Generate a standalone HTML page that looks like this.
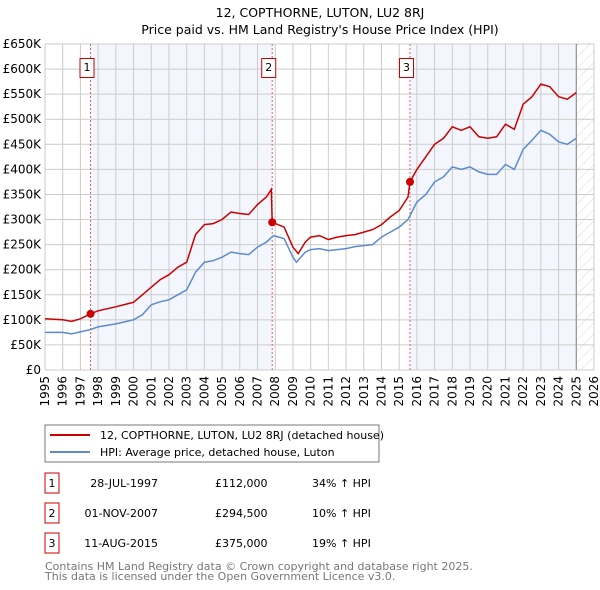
<!DOCTYPE html>
<html><head><meta charset="utf-8"><style>
body{margin:0;background:#fff;width:600px;height:590px;overflow:hidden;font-family:"Liberation Sans","DejaVu Sans",sans-serif}
svg{display:block}
text{font-family:"DejaVu Sans","Liberation Sans",sans-serif}
</style></head><body>
<svg id="c" width="600" height="590" viewBox="0 0 600 590">
<text x="320" y="17" text-anchor="middle" font-size="12.5" fill="#000">12, COPTHORNE, LUTON, LU2 8RJ</text>
<text x="320" y="34" text-anchor="middle" font-size="12.5" fill="#000">Price paid vs. HM Land Registry's House Price Index (HPI)</text>
<g id="plot"></g>
<rect x="45" y="425" width="334" height="37" fill="#fff" stroke="#777"/>
<line x1="50" y1="435" x2="90" y2="435" stroke="#cc0000" stroke-width="2"/>
<text x="100" y="439" font-size="11">12, COPTHORNE, LUTON, LU2 8RJ (detached house)</text>
<line x1="50" y1="452" x2="90" y2="452" stroke="#5b8bd0" stroke-width="2"/>
<text x="100" y="456" font-size="11">HPI: Average price, detached house, Luton</text>
<g id="tbl" font-size="11"></g>
<text x="45" y="570" font-size="11" fill="#777">Contains HM Land Registry data © Crown copyright and database right 2025.</text>
<text x="45" y="580" font-size="11" fill="#777">This data is licensed under the Open Government Licence v3.0.</text>
</svg>
<script>
const hpiYears=[1995,1996,1996.5,1997,1997.5,1998,1999,2000,2000.5,2001,2001.5,2002,2002.5,2003,2003.5,2004,2004.5,2005,2005.5,2006,2006.5,2007,2007.5,2007.9,2008.5,2009,2009.2,2009.7,2010,2010.5,2011,2011.5,2012,2012.5,2013,2013.5,2014,2014.5,2015,2015.5,2016,2016.5,2017,2017.5,2018,2018.5,2019,2019.5,2020,2020.5,2021,2021.5,2022,2022.5,2023,2023.5,2024,2024.5,2025];
const hpiValues=[75,75,72,76,80,86,92,100,110,130,136,140,150,160,195,215,218,225,235,232,230,245,255,268,262,225,215,235,240,242,238,240,242,246,248,250,265,275,285,300,335,350,375,385,405,400,405,395,390,390,410,400,440,458,478,470,455,450,462];
const priceYears=[1995,1996,1996.5,1997,1997.57,1998,1999,2000,2000.5,2001,2001.5,2002,2002.5,2003,2003.5,2004,2004.5,2005,2005.5,2006,2006.5,2007,2007.5,2007.78,2007.83,2008.5,2009,2009.3,2009.7,2010,2010.5,2011,2011.5,2012,2012.5,2013,2013.5,2014,2014.5,2015,2015.5,2015.61,2016,2016.5,2017,2017.5,2018,2018.5,2019,2019.5,2020,2020.5,2021,2021.5,2022,2022.5,2023,2023.5,2024,2024.5,2025];
const priceValues=[102,100,97,102,112,118,126,135,150,165,180,190,205,215,270,290,292,300,315,312,310,330,345,360,294.5,285,245,232,255,265,268,260,265,268,270,275,280,290,305,318,345,375,400,425,450,462,485,478,485,465,462,465,490,480,530,545,570,565,545,540,553];
const saleYears=[1997.57,2007.83,2015.61];
const saleValues=[112,294.5,375];
const saleLabels=["1","2","3"];
const saleDates=["28-JUL-1997","01-NOV-2007","11-AUG-2015"];
const salePrices=["£112,000","£294,500","£375,000"];
const saleHpi=["34% ↑ HPI","10% ↑ HPI","19% ↑ HPI"];
const yTicks=[0,50,100,150,200,250,300,350,400,450,500,550,600,650];
const yTickLabels=["£0","£50K","£100K","£150K","£200K","£250K","£300K","£350K","£400K","£450K","£500K","£550K","£600K","£650K"];
const xTicks=[1995,1996,1997,1998,1999,2000,2001,2002,2003,2004,2005,2006,2007,2008,2009,2010,2011,2012,2013,2014,2015,2016,2017,2018,2019,2020,2021,2022,2023,2024,2025,2026];

const X0=45,X1=594,Y0=370,Y1=44;
const xs=y=>X0+(y-1995)/(2026-1995)*(X1-X0);
const ys=v=>Y0-v/650*(Y0-Y1);
const NS="http://www.w3.org/2000/svg";
const plot=document.getElementById('plot');
function mk(tag,attrs,parent){const e=document.createElementNS(NS,tag);for(const k in attrs)e.setAttribute(k,attrs[k]);(parent||plot).appendChild(e);return e;}

let e=mk('rect',{x:X0,y:Y1,width:X1-X0,height:Y0-Y1,fill:'#fff'});


const shades=[[saleYears[0],saleYears[1]],[saleYears[2],2025.0]];
shades.forEach((s,i)=>{const r=mk('rect',{x:xs(s[0]),y:Y1,width:xs(s[1])-xs(s[0]),height:Y0-Y1,fill:'#f3f6fd'});

});
const defs=mk('defs',{});
const pat=mk('pattern',{id:'h',width:8,height:8,patternUnits:'userSpaceOnUse',patternTransform:'rotate(45)'},defs);
mk('line',{x1:0,y1:0,x2:0,y2:8,stroke:'#d8d8d8','stroke-width':1},pat);
e=mk('rect',{x:xs(2025.0),y:Y1,width:X1-xs(2025.0),height:Y0-Y1,fill:'url(#h)'});


yTicks.forEach((v,i)=>{const l=mk('line',{x1:X0,x2:X1,y1:ys(v),y2:ys(v),stroke:'#ccc','stroke-width':1});


const t=mk('text',{x:X0-4,y:ys(v)+4,'text-anchor':'end','font-size':12});t.textContent=yTickLabels[i];

});
xTicks.forEach(y=>{const l=mk('line',{x1:xs(y),x2:xs(y),y1:Y1,y2:Y0,stroke:'#ccc','stroke-width':1});


const t=mk('text',{x:0,y:0,'text-anchor':'end','font-size':12,transform:`translate(${xs(y)+4},${Y0+6}) rotate(-90)`});t.textContent=y;

});
e=mk('line',{x1:xs(2025.0),x2:xs(2025.0),y1:Y1,y2:Y0,stroke:'#888','stroke-width':1});


saleYears.forEach((y,i)=>{const l=mk('line',{x1:xs(y),x2:xs(y),y1:Y1,y2:Y0,stroke:'#e06060','stroke-dasharray':'2,2','stroke-width':1});


const r=mk('rect',{x:xs(y)-10.5,y:58.5,width:14,height:19,fill:'#fff',stroke:'#cc0000'});


const t=mk('text',{x:xs(y)-3.5,y:71,'text-anchor':'middle','font-size':11});t.textContent=saleLabels[i];

});
const pts=(xa,va)=>xa.map((y,i)=>xs(y).toFixed(1)+','+ys(va[i]).toFixed(1)).join(' ');
e=mk('polyline',{points:pts(hpiYears,hpiValues),fill:'none',stroke:'#5b8bd0','stroke-width':1.5});


e=mk('polyline',{points:pts(priceYears,priceValues),fill:'none',stroke:'#cc0000','stroke-width':1.5});


saleYears.forEach((y,i)=>{const c=mk('circle',{cx:xs(y),cy:ys(saleValues[i]),r:4,fill:'#cc0000'});

});
const tbl=document.getElementById('tbl');
saleLabels.forEach((s,i)=>{const cy=483+i*30;
const r=mk('rect',{x:45,y:cy-10,width:14,height:20,fill:'#fff',stroke:'#cc0000'},tbl);


const cols=[[52,s,'middle'],[158,saleDates[i],'end'],[215,salePrices[i],'start'],[312,saleHpi[i],'start']];
const names=['table-index','table-date','table-price','table-hpi-change'];
cols.forEach((c,j)=>{const t=mk('text',{x:c[0],y:cy+4,'text-anchor':c[2]},tbl);t.textContent=c[1];

});});
</script>
</body></html>
